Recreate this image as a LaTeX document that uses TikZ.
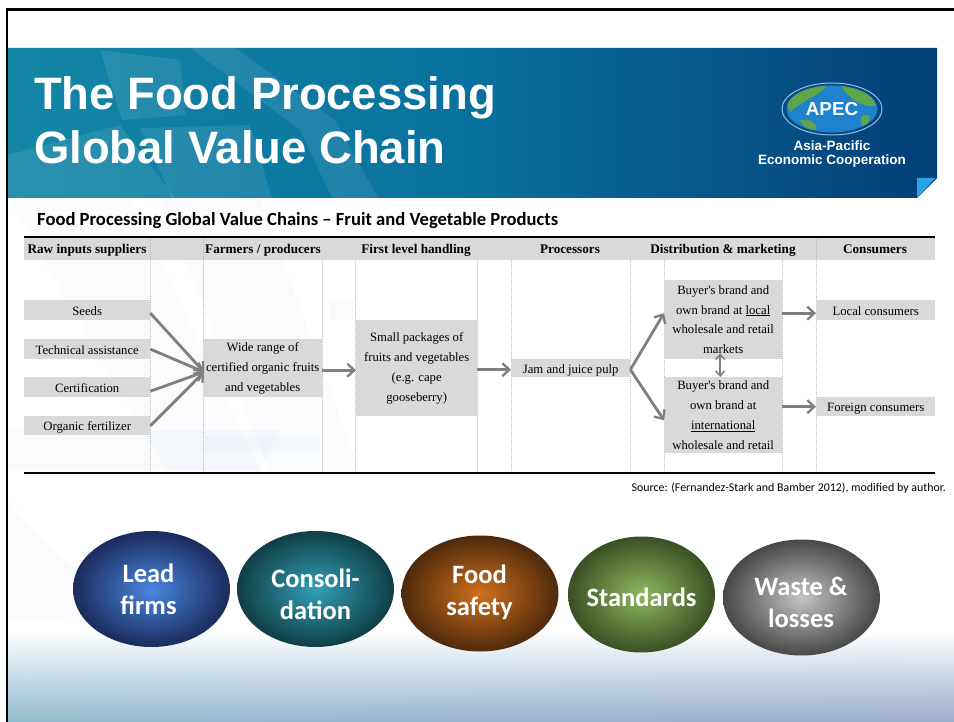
\documentclass[tikz,border=0pt]{standalone}
\usepackage{fontspec}
\setmainfont{Liberation Serif}
\newfontfamily\hdfont{Liberation Sans}
\newfontfamily\cbfont{Carlito}
\usetikzlibrary{arrows.meta,shapes.geometric,shadings}
\definecolor{cellgray}{HTML}{D9D9D9}
\definecolor{arrowgray}{HTML}{7F7F7F}
\definecolor{divgray}{HTML}{B8B8B8}
\definecolor{bannerL}{RGB}{20,135,165}
\definecolor{bannerM}{RGB}{8,112,158}
\definecolor{bannerR}{RGB}{4,62,120}
\definecolor{floorL}{RGB}{145,188,208}
\definecolor{floorR}{RGB}{155,172,205}
\definecolor{cornerblue}{RGB}{40,165,225}
\definecolor{landgreen}{RGB}{95,165,75}
\definecolor{seablue}{RGB}{30,130,205}
\definecolor{ringblue}{RGB}{150,190,225}
\definecolor{bA}{RGB}{74,134,224}\definecolor{bAo}{RGB}{26,44,92}
\definecolor{bB}{RGB}{50,160,184}\definecolor{bBo}{RGB}{16,62,70}
\definecolor{bC}{RGB}{208,112,28}\definecolor{bCo}{RGB}{78,42,12}
\definecolor{bD}{RGB}{144,184,96}\definecolor{bDo}{RGB}{58,80,36}
\definecolor{bE}{RGB}{196,196,196}\definecolor{bEo}{RGB}{72,72,72}
\tikzset{
  cell/.style={fill=cellgray,inner sep=0pt,align=center,anchor=north west,font=\fontsize{12.7}{19.8}\selectfont},
  dn/.style={execute at begin node={\rule{0pt}{#1pt}}},
  headtext/.style={inner sep=0pt,anchor=base,font=\bfseries\fontsize{13.2}{15}\selectfont},
  flow/.style={draw=arrowgray,line width=2.8pt,-{Straight Barb[length=7pt,width=13pt,line width=2.3pt]}},
  twin/.style={draw=arrowgray,line width=1.5pt,{Straight Barb[length=5pt,width=9pt]}-{Straight Barb[length=5pt,width=9pt]}},
  divider/.style={draw=divgray,line width=1pt,dash pattern=on 1pt off 1pt},
  blob/.style={ellipse,minimum width=157pt,minimum height=116pt,inner sep=0pt,shading=radial},
  blobtext/.style={inner sep=0pt,align=center,text=white,font=\cbfont\bfseries\fontsize{26.5}{32}\selectfont},
  wm/.style={fill=white,fill opacity=.09},
  wmlight/.style={fill=cyan!60!blue,fill opacity=.025},
  titletext/.style={inner sep=0pt,anchor=base west,text=white,font=\hdfont\bfseries\fontsize{45.4}{54}\selectfont},
}
\begin{document}
\begin{tikzpicture}[x=1pt,y=-1pt]
\useasboundingbox (0,0) rectangle (954,722);
\fill[white] (0,0) rectangle (954,722);
% page background
\shade[upper left=white,upper right=white,lower left=floorL,lower right=floorR] (8,630) rectangle (954,722);
% watermark
\fill[wmlight] (8,198) -- (130,198) -- (262,473) -- (168,473) -- cycle;
\fill[wmlight] (160,198) -- (260,198) -- (360,473) -- (270,473) -- cycle;
\fill[wmlight] (8,430) -- (280,430) -- (260,470) -- (8,470) -- cycle;
\fill[wmlight] (8,500) .. controls (60,560) and (90,590) .. (180,620) -- (8,620) -- cycle;
\fill[wmlight] (330,302) rectangle (353,320);
\fill[wmlight] (205,436) rectangle (320,452);
% frame
\draw[black,line width=2.2pt] (954,9.5) -- (7,9.5) -- (7,722);
% banner
\shade[left color=bannerL,right color=bannerR,middle color=bannerM] (8,48) -- (937,48) -- (937,178) -- (917,198) -- (8,198) -- cycle;
\fill[wm] (8,155) -- (120,125) -- (175,198) -- (8,198) -- cycle;
\fill[wm] (140,128) -- (250,125) -- (272,198) -- (172,198) -- cycle;
\fill[wm] (100,50) -- (180,60) -- (186,115) -- (122,120) -- cycle;
\fill[wm] (190,48) -- (235,48) -- (335,120) -- (378,198) -- (332,198) -- (300,130) -- cycle;
\fill[cornerblue] (917,178) -- (935,178) -- (917,198) -- cycle;
% title
\node[titletext] (title1) at (34,110) {The Food Processing};
\node[titletext] (title2) at (34,164) {Global Value Chain};
% logo
\node[ellipse,minimum width=100pt,minimum height=52pt,inner sep=0pt,draw=ringblue,line width=1pt] (ring) at (832,109) {};
\node[ellipse,minimum width=91pt,minimum height=47pt,inner sep=0pt,fill=seablue] (globe) at (832,109) {};
\begin{scope}
\clip (832,109) ellipse [x radius=45.5pt,y radius=23.5pt];
\fill[landgreen] (786,100) .. controls (796,86) and (815,84) .. (826,86) .. controls (820,96) and (806,98) .. (790,112) -- cycle;
\fill[landgreen] (840,84) .. controls (858,86) and (872,92) .. (876,106) .. controls (862,108) and (848,98) .. (840,84) -- cycle;
\fill[landgreen] (800,120) .. controls (810,118) and (818,124) .. (816,130) .. controls (808,130) and (802,126) .. (800,120) -- cycle;
\fill[landgreen] (862,116) .. controls (870,112) and (872,118) .. (866,126) .. controls (860,128) and (860,120) .. (862,116) -- cycle;
\end{scope}
\node[inner sep=0pt,text=white,font=\hdfont\bfseries\fontsize{18.8}{20}\selectfont] (apec) at (832,109) {APEC};
\node[inner sep=0pt,text=white,align=center,font=\hdfont\bfseries\fontsize{13.5}{14}\selectfont] (org) at (832,154.5) {Asia-Pacific\\Economic Cooperation};
% subtitle
\node[inner sep=0pt,anchor=base west,font=\cbfont\bfseries\fontsize{18.6}{20}\selectfont] (sub) at (37,226) {Food Processing Global Value Chains – Fruit and Vegetable Products};
% table header
\fill[cellgray] (24,238) rectangle (935,260);
\foreach \x in {150,203,322,355,477,511,630,664,782,816}{\draw[divider] (\x,260) -- (\x,473);}
\foreach \x in {150,203,816}{\draw[divider] (\x,238) -- (\x,260);}
\draw[black,line width=1.1pt] (24,237) -- (935,237);
\draw[black,line width=1.1pt] (24,473) -- (935,473);
\node[headtext] (h1) at (87,253.5) {Raw inputs suppliers};
\node[headtext] (h2) at (263,253.5) {Farmers / producers};
\node[headtext] (h3) at (416,253.5) {First level handling};
\node[headtext] (h4) at (570,253.5) {Processors};
\node[headtext] (h5) at (723,253.5) {Distribution \& marketing};
\node[headtext] (h6) at (875,253.5) {Consumers};
% cells
\node[cell,dn=11,minimum width=126pt,minimum height=20pt] (seeds) at (24,300) {Seeds};
\node[cell,dn=11,minimum width=126pt,minimum height=20pt] (tech) at (24,339) {Technical assistance};
\node[cell,dn=11,minimum width=126pt,minimum height=20pt] (cert) at (24,377) {Certification};
\node[cell,dn=12,minimum width=126pt,minimum height=19pt] (fert) at (24,416) {Organic fertilizer};
\node[cell,dn=13.5,minimum width=119pt,minimum height=58pt] (wide) at (203,339) {Wide range of\\certified organic fruits\\and vegetables};
\node[cell,dn=13.5,minimum width=121pt,minimum height=96pt] (small) at (356,320) {Small packages of\\fruits and vegetables\\(e.g. cape\\gooseberry)};
\node[cell,dn=12.5,minimum width=119pt,minimum height=18pt] (jam) at (511,359) {Jam and juice pulp};
\node[cell,minimum width=118pt,minimum height=79pt] (local) at (664,280) {Buyer\textquotesingle s brand and\\own brand at \underline{local}\\wholesale and retail\\markets};
\node[cell,dn=14,minimum width=118pt,minimum height=76pt] (intl) at (664,377) {Buyer\textquotesingle s brand and\\own brand at\\\underline{international}\\wholesale and retail};
\node[cell,dn=11,minimum width=119pt,minimum height=20pt] (lc) at (816,300) {Local consumers};
\node[cell,dn=13,minimum width=119pt,minimum height=19pt] (fc) at (816,397) {Foreign consumers};
% arrows
\coordinate (conv) at (204,372);
\draw[flow] ([yshift=-3pt]seeds.east) -- (conv);
\draw[flow] (tech.east) -- (conv);
\draw[flow] ([yshift=-4pt]cert.east) -- (conv);
\draw[flow] (fert.east) -- (conv);
\draw[flow] ([yshift=-2pt]wide.east) -- ([yshift=-2pt]small.west);
\draw[flow] ([yshift=-1.5pt]small.east) -- ([yshift=-1.5pt]jam.west);
\draw[flow] ([yshift=-1.5pt]jam.east) -- ([yshift=6.5pt]local.west);
\draw[flow] ([yshift=-1.5pt]jam.east) -- ([yshift=-5pt]intl.west);
\draw[flow] ([yshift=6.5pt]local.east) -- ([yshift=-3pt]lc.west);
\draw[flow] ([yshift=8.5pt]intl.east) -- (fc.west);
\draw[twin] ([xshift=-3pt,yshift=6pt]local.south) -- ([xshift=-3pt]intl.north);
% source
\node[inner sep=0pt,anchor=east,font=\cbfont\fontsize{11.9}{13}\selectfont] (src) at (946,488) {Source: (Fernandez-Stark and Bamber 2012), modified by author.};
% blobs
\node[blob,inner color=bA,outer color=bAo] (b1) at (151.5,589) {};
\node[blob,inner color=bB,outer color=bBo] (b2) at (315.5,589) {};
\node[blob,inner color=bC,outer color=bCo] (b3) at (480,593.5) {};
\node[blob,minimum width=147pt,inner color=bD,outer color=bDo] (b4) at (641.5,594.5) {};
\node[blob,inner color=bE,outer color=bEo] (b5) at (801.5,597.5) {};
\node[blobtext] (t1) at (148.5,589.5) {Lead\\firms};
\node[blobtext] (t2) at (315.5,594) {Consoli-\\dation};
\node[blobtext] (t3) at (479.5,592.5) {Food\\safety};
\node[blobtext] (t4) at (641.5,597) {Standards};
\node[blobtext] (t5) at (801,602.5) {Waste \&\\losses};
\end{tikzpicture}
\end{document}
